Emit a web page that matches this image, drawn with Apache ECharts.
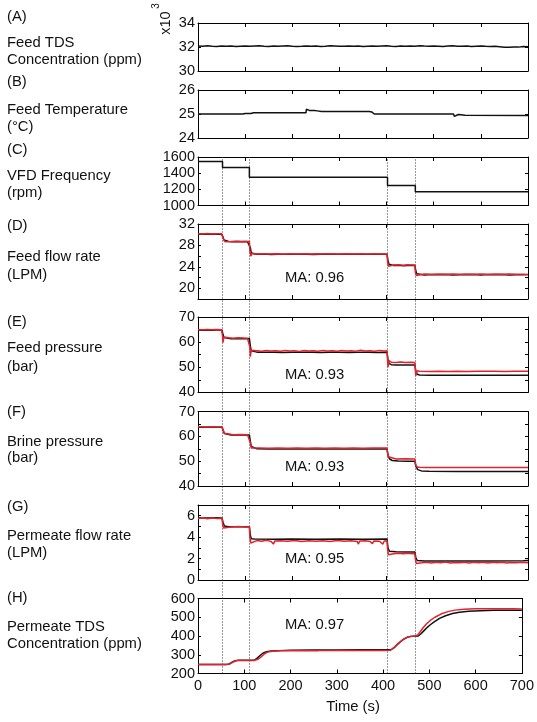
<!DOCTYPE html>
<html>
<head>
<meta charset="utf-8">
<script src="https://cdn.jsdelivr.net/npm/echarts@6/dist/echarts.min.js"></script>
<style>
html,body{margin:0;padding:0;background:#fff;}
#c{width:537px;height:722px;}
</style>
</head>
<body>
<div id="c"></div>
<script>
// ---------------- DATA ----------------
// Step-change instants (s), shown as dotted vertical lines
const stepTimes = [52, 109, 402, 461];

// (A) Feed TDS (x10^3 ppm), sampled every 10 s
const tdsTimes = [0,10,20,30,40,50,60,70,80,90,100,110,120,130,140,150,160,170,180,190,200,210,220,230,240,250,260,270,280,290,300,310,320,330,340,350,360,370,380,390,400,410,420,430,440,450,460,470,480,490,500,510,520,530,540,550,560,570,580,590,600,610,620,630,640,650,660,670,680,690,700];
const tdsValues = [
 32.08,32.06,32.10,32.07,32.05,32.09,32.06,32.08,32.04,32.07,
 32.09,32.06,32.08,32.10,32.07,32.05,32.08,32.06,32.09,32.11,
 32.07,32.04,32.06,32.09,32.07,32.08,32.05,32.07,32.10,32.08,
 32.06,32.07,32.09,32.06,32.08,32.05,32.07,32.09,32.06,32.08,
 32.10,32.07,32.05,32.08,32.06,32.09,32.07,32.11,32.08,32.06,
 32.09,32.07,32.05,32.08,32.10,32.07,32.06,32.08,32.05,32.07,
 32.09,32.06,32.04,32.06,32.02,31.98,31.97,32.00,31.99,32.05,32.03];

// (B) Feed temperature (°C)
const feedTemp = [[0,25.0],[88,25.0],[89,25.08],[91,25.0],[95,25.0],[97,25.08],[100,25.02],[103,25.08],[106,25.02],[109,25.08],[112,25.02],[115,25.08],[118,25.05],[229,25.05],[230,25.2],[233,25.24],[236,25.15],[238,25.23],[241,25.15],[244,25.23],[247,25.15],[250,25.22],[253,25.13],[262,25.1],[351,25.1],[354,25.02],[357,25.1],[360,25.02],[363,25.1],[366,25.02],[369,25.08],[374,25.0],[542,25.0],[544,24.9],[548,24.98],[552,24.98],[555,24.9],[558,24.97],[562,24.9],[566,24.95],[570,24.94],[700,24.94]];

// (C) VFD frequency (rpm)
const vfd = [[0,1545],[52,1545],[52,1470],[109,1470],[109,1350],[402,1350],[402,1248],[461,1248],[461,1170],[700,1170]];

// (D) Feed flow rate (LPM): measured (black) / model (red)
const feedFlowMeas = [[0,30.1],[10,30.15],[20,30.08],[30,30.12],[40,30.1],[50,30.12],[53,29.6],[55,29.0],[58,28.8],[65,28.72],[75,28.68],[85,28.72],[95,28.7],[105,28.68],[109,28.7],[111,27.6],[113,26.6],[116,26.4],[125,26.35],[140,26.38],[155,26.32],[170,26.36],[185,26.33],[200,26.37],[215,26.34],[230,26.36],[245,26.32],[260,26.35],[275,26.38],[290,26.33],[305,26.36],[320,26.34],[335,26.37],[350,26.33],[365,26.36],[380,26.34],[395,26.36],[401,26.35],[403,25.2],[405,24.5],[408,24.3],[415,24.25],[425,24.28],[435,24.22],[445,24.26],[455,24.24],[460,24.25],[462,23.3],[464,22.7],[468,22.55],[480,22.5],[495,22.55],[510,22.52],[525,22.56],[540,22.5],[555,22.54],[570,22.52],[585,22.56],[600,22.5],[615,22.55],[630,22.52],[645,22.56],[660,22.5],[675,22.54],[690,22.52],[700,22.55]];
const feedFlowModel = [[0,30.2],[10,30.15],[20,30.22],[30,30.15],[40,30.2],[50,30.18],[52,29.9],[54,29.2],[57,28.7],[60,28.8],[70,28.75],[80,28.8],[90,28.72],[100,28.78],[109,28.75],[110,27.0],[112,26.0],[115,26.5],[120,26.4],[135,26.45],[150,26.38],[165,26.44],[180,26.4],[195,26.46],[210,26.39],[225,26.44],[240,26.4],[255,26.45],[270,26.38],[285,26.43],[300,26.41],[315,26.46],[330,26.39],[345,26.44],[360,26.4],[375,26.45],[390,26.4],[401,26.42],[402,25.0],[404,24.1],[407,24.45],[415,24.35],[425,24.4],[435,24.32],[445,24.38],[455,24.35],[460,24.36],[461,23.0],[463,22.4],[467,22.7],[480,22.65],[495,22.6],[510,22.66],[525,22.62],[540,22.67],[555,22.6],[570,22.65],[585,22.62],[600,22.66],[615,22.6],[630,22.65],[645,22.62],[660,22.66],[675,22.6],[690,22.64],[700,22.58]];

// (E) Feed pressure (bar)
const feedPresMeas = [[0,64.8],[10,64.7],[20,64.8],[30,64.75],[40,64.8],[51,64.8],[53,63.0],[55,61.8],[58,61.4],[70,61.35],[85,61.4],[100,61.35],[109,61.4],[111,58.5],[113,56.5],[116,56.1],[125,56.0],[140,55.95],[160,56.0],[180,55.9],[200,56.0],[220,55.95],[240,56.0],[260,55.9],[280,55.95],[300,56.0],[320,55.9],[340,55.95],[360,56.0],[380,55.9],[401,55.95],[403,53.0],[405,51.5],[410,51.0],[420,50.9],[435,50.85],[450,50.9],[460,50.9],[462,48.5],[465,47.2],[470,46.9],[490,46.8],[520,46.75],[550,46.8],[580,46.75],[610,46.8],[640,46.75],[670,46.8],[700,46.75]];
const feedPresModel = [[0,65.0],[10,64.9],[20,65.0],[30,64.9],[40,65.0],[50,64.9],[52,62.5],[53,59.8],[55,62.0],[58,61.6],[65,61.7],[75,61.5],[85,61.7],[95,61.6],[105,61.5],[109,61.6],[110,58.0],[111,54.2],[113,56.8],[117,56.3],[125,56.6],[135,56.4],[145,56.7],[155,56.5],[165,56.6],[175,56.4],[185,56.7],[195,56.5],[205,56.6],[215,56.3],[225,56.7],[235,56.5],[245,56.6],[255,56.4],[265,56.7],[275,56.5],[285,56.6],[295,56.4],[305,56.7],[315,56.5],[325,56.6],[335,56.4],[345,56.8],[355,56.5],[365,56.6],[375,56.4],[385,56.7],[395,56.5],[401,56.6],[402,53.0],[403,50.0],[405,52.6],[410,52.0],[420,51.9],[430,52.1],[440,51.9],[450,52.0],[460,51.9],[461,49.0],[462,46.6],[465,48.6],[470,48.4],[490,48.3],[510,48.4],[530,48.3],[550,48.4],[570,48.3],[590,48.4],[610,48.35],[630,48.4],[650,48.3],[670,48.4],[690,48.35],[700,48.4]];

// (F) Brine pressure (bar)
const brinePresMeas = [[0,63.7],[20,63.7],[40,63.7],[51,63.7],[53,62.5],[56,61.2],[60,60.7],[70,60.6],[90,60.6],[109,60.6],[111,58.0],[113,56.0],[116,55.2],[125,55.0],[150,54.9],[200,54.95],[250,54.9],[300,54.95],[350,54.9],[401,54.9],[403,52.5],[406,51.0],[412,50.3],[425,50.1],[445,50.0],[460,50.0],[462,48.0],[466,46.6],[474,46.1],[490,45.95],[550,45.9],[620,45.9],[700,45.85]];
const brinePresModel = [[0,63.9],[15,63.8],[30,63.9],[45,63.8],[51,63.9],[53,62.8],[56,61.3],[60,60.8],[75,60.7],[90,60.8],[105,60.7],[109,60.7],[111,57.5],[113,55.3],[116,55.4],[130,55.3],[150,55.2],[170,55.35],[190,55.2],[210,55.3],[230,55.2],[250,55.35],[270,55.2],[290,55.3],[310,55.2],[330,55.35],[350,55.2],[370,55.3],[390,55.35],[401,55.3],[402,53.5],[404,51.8],[408,51.1],[420,50.9],[440,51.0],[460,50.9],[461,49.5],[463,47.9],[468,47.6],[485,47.5],[520,47.45],[560,47.5],[600,47.45],[650,47.5],[700,47.45]];

// (G) Permeate flow rate (LPM)
const permFlowMeas = [[0,5.8],[20,5.78],[40,5.8],[51,5.78],[53,5.4],[56,5.05],[65,4.98],[85,4.97],[109,4.97],[111,4.2],[113,3.85],[120,3.82],[160,3.8],[200,3.82],[250,3.8],[300,3.82],[350,3.8],[401,3.82],[403,3.0],[406,2.68],[420,2.63],[440,2.62],[460,2.62],[462,2.1],[465,1.82],[480,1.78],[550,1.77],[620,1.78],[690,1.8],[700,1.82]];
const permFlowModel = [[0,5.75],[10,5.8],[20,5.72],[30,5.78],[40,5.74],[51,5.76],[52,5.3],[54,4.85],[57,5.0],[70,4.95],[85,5.0],[100,4.94],[109,4.96],[110,4.0],[112,3.45],[115,3.6],[125,3.68],[135,3.62],[145,3.7],[155,3.6],[160,3.35],[163,3.65],[175,3.66],[190,3.62],[205,3.68],[220,3.6],[235,3.67],[250,3.62],[265,3.66],[280,3.6],[295,3.68],[310,3.62],[325,3.66],[338,3.6],[340,3.35],[343,3.64],[355,3.66],[365,3.6],[370,3.38],[373,3.65],[385,3.62],[392,3.35],[395,3.64],[401,3.66],[402,2.9],[404,2.35],[407,2.52],[415,2.45],[425,2.5],[435,2.44],[445,2.5],[455,2.46],[460,2.48],[461,2.0],[463,1.55],[467,1.66],[475,1.6],[485,1.66],[495,1.58],[505,1.65],[515,1.6],[525,1.67],[535,1.58],[545,1.64],[555,1.6],[565,1.66],[575,1.58],[585,1.65],[595,1.6],[605,1.66],[615,1.58],[625,1.65],[635,1.6],[645,1.66],[655,1.58],[665,1.64],[675,1.6],[685,1.66],[700,1.62]];

// (H) Permeate TDS (ppm)
const permTdsMeas = [[0,248],[20,248],[40,248],[60,248],[66,249],[72,258],[80,268],[88,271],[100,271],[115,271],[122,272],[128,282],[134,296],[140,308],[148,316],[158,320],[175,322],[200,324],[250,325],[300,326],[350,327],[400,327],[418,328],[424,338],[430,352],[437,368],[444,382],[452,393],[460,398],[468,399],[476,400],[482,412],[489,430],[495,445],[502,460],[512,478],[522,494],[535,508],[550,520],[565,527],[585,532],[610,535],[640,537],[670,537],[700,537]];
const permTdsModel = [[0,248],[20,248],[40,248],[60,248],[68,250],[75,260],[82,268],[90,270],[110,270],[122,270],[130,276],[137,290],[143,304],[150,314],[160,319],[180,321],[220,322],[260,322],[300,323],[350,323],[400,323],[416,324],[422,335],[430,355],[438,372],[446,386],[454,395],[462,399],[470,400],[475,405],[481,425],[487,445],[494,465],[502,483],[512,500],[525,517],[540,530],[555,538],[575,543],[600,545],[640,546],[680,545],[700,544]];

// Text
const panelLetters = ['(A)','(B)','(C)','(D)','(E)','(F)','(G)','(H)'];
const panelNames = [
  ['Feed TDS','Concentration (ppm)'],
  ['Feed Temperature','(\u00B0C)'],
  ['VFD Frequency','(rpm)'],
  ['Feed flow rate','(LPM)'],
  ['Feed pressure','(bar)'],
  ['Brine pressure','(bar)'],
  ['Permeate flow rate','(LPM)'],
  ['Permeate TDS','Concentration (ppm)']
];
const maLabels = [null,null,null,'MA: 0.96','MA: 0.93','MA: 0.93','MA: 0.95','MA: 0.97'];
const xTickLabels = ['0','100','200','300','400','500','600','700'];

// ---------------- LAYOUT ----------------
const FONT = '"Liberation Sans", Arial, Helvetica, sans-serif';
const BLACK = '#111111';
const RED = '#e3232b';
const L = 198, R = 9;
const layout = [
  {top:23,  h:48,   min:30,   max:34,   iv:2,   lab:v=>v},
  {top:90,  h:48,   min:24,   max:26,   iv:1,   lab:v=>v},
  {top:157, h:48.5, min:1000, max:1600, iv:200, lab:v=>v},
  {top:224, h:75,   min:18,   max:32,   iv:2,   lab:v=>(v%4===0?v:'')},
  {top:317, h:75.3, min:40,   max:70,   iv:5,   lab:v=>(v%10===0?v:'')},
  {top:411.7,h:74.3,min:40,   max:70,   iv:5,   lab:v=>(v%10===0?v:'')},
  {top:505, h:75,   min:0,    max:7,    iv:1,   lab:v=>(v%2===0?v:'')},
  {top:598.5,h:75,  min:200,  max:600,  iv:100, lab:v=>v}
];
const panelSeries = [
  [[tdsTimes.map((t,i)=>[t,tdsValues[i]]), BLACK]],
  [[feedTemp, BLACK]],
  [[vfd, BLACK]],
  [[feedFlowMeas, BLACK],[feedFlowModel, RED]],
  [[feedPresMeas, BLACK],[feedPresModel, RED]],
  [[brinePresMeas, BLACK],[brinePresModel, RED]],
  [[permFlowMeas, BLACK],[permFlowModel, RED]],
  [[permTdsMeas, BLACK],[permTdsModel, RED]]
];
const maY = [0,0,0,278,375,466.7,559.3,625];
const letterY = [16.7,81.7,150,226,321.7,411.7,506.7,598.3];
const nameY = [[43.3,60],[110,126.7],[175.7,193.3],[256.7,275],[348.3,366.7],[441.7,458.3],[536,553.3],[626.7,644]];

const grids=[], xAxes=[], yAxes=[], series=[], graphics=[];
const axisLine = {show:true, onZero:false, lineStyle:{color:'#000', width:1}};
const txt = (s, x, y, size, extra) => Object.assign({type:'text', x, y,
  style:{text:s, font:size+'px '+FONT, fill:'#111', textAlign:'left', align:'left',
         textVerticalAlign:'middle', verticalAlign:'middle'}}, extra||{});
layout.forEach((p,i)=>{
  grids.push({left:L, right:R, top:p.top, height:p.h});
  const xb = {gridIndex:i, type:'value', min:0, max:700, interval:100, position:'bottom',
    axisLine, axisTick:{show:true, inside:true, length:4, lineStyle:{color:'#000'}},
    axisLabel:{show:i===7, margin:5, fontFamily:FONT, fontSize:14.5, color:'#111',
      formatter:v=>xTickLabels[Math.round(v/100)]},
    splitLine:{show:false}};
  const xt = Object.assign({}, xb, {position:'top', axisLabel:{show:false}});
  xAxes.push(xb, xt);
  const yl = {gridIndex:i, type:'value', min:p.min, max:p.max, interval:p.iv, position:'left',
    axisLine, axisTick:{show:true, inside:true, length:3, lineStyle:{color:'#000'}},
    axisLabel:{show:true, margin:3, fontFamily:FONT, fontSize:14.5, color:'#111', formatter:p.lab},
    splitLine:{show:false}};
  const yr = Object.assign({}, yl, {position:'right', axisLabel:{show:false}});
  yAxes.push(yl, yr);
  panelSeries[i].forEach(([data,color])=>{
    series.push({type:'line', xAxisIndex:2*i, yAxisIndex:2*i, data, symbol:'none', showSymbol:false,
      lineStyle:{color, width:1.5}, z:5, animation:false, silent:true});
  });
  graphics.push(txt(panelLetters[i], 7, letterY[i], 14.8));
  panelNames[i].forEach((s,k)=> graphics.push(txt(s, 7, nameY[i][k], 14.8)));
  if (maLabels[i]) graphics.push(txt(maLabels[i], 285, maY[i], 14.8));
});
// overlay grid for dotted step lines (spans panel C top to panel H bottom)
grids.push({left:L, right:R, top:157, height:673.5-157});
xAxes.push({gridIndex:8, type:'value', min:0, max:700, show:false});
yAxes.push({gridIndex:8, type:'value', min:0, max:1, show:false});
series.push({type:'line', xAxisIndex:16, yAxisIndex:16, data:[[0,0]], symbol:'none', showSymbol:false,
  lineStyle:{width:0, opacity:0}, z:1, animation:false, silent:true,
  markLine:{silent:true, symbol:['none','none'], animation:false, label:{show:false},
    lineStyle:{type:[1,2], color:'#333', width:1},
    data: stepTimes.map(t=>({xAxis:t}))}});

// x10^3 multiplier (rotated, reads bottom-to-top)
const ctr = {textAlign:'center', align:'center', textVerticalAlign:'middle', verticalAlign:'middle', fill:'#111'};
graphics.push({type:'text', x:166, y:23, rotation:Math.PI/2,
  style:Object.assign({text:'x10', font:'14.5px '+FONT}, ctr)});
graphics.push({type:'text', x:156, y:6, rotation:Math.PI/2,
  style:Object.assign({text:'3', font:'10px '+FONT}, ctr)});
// x-axis title
graphics.push({type:'text', x:353, y:707, style:Object.assign({text:'Time (s)', font:'14.8px '+FONT}, ctr)});

const chart = echarts.init(document.getElementById('c'), null, {renderer:'canvas'});
chart.setOption({animation:false, grid:grids, xAxis:xAxes, yAxis:yAxes, series, graphic:graphics});
</script>
</body>
</html>
